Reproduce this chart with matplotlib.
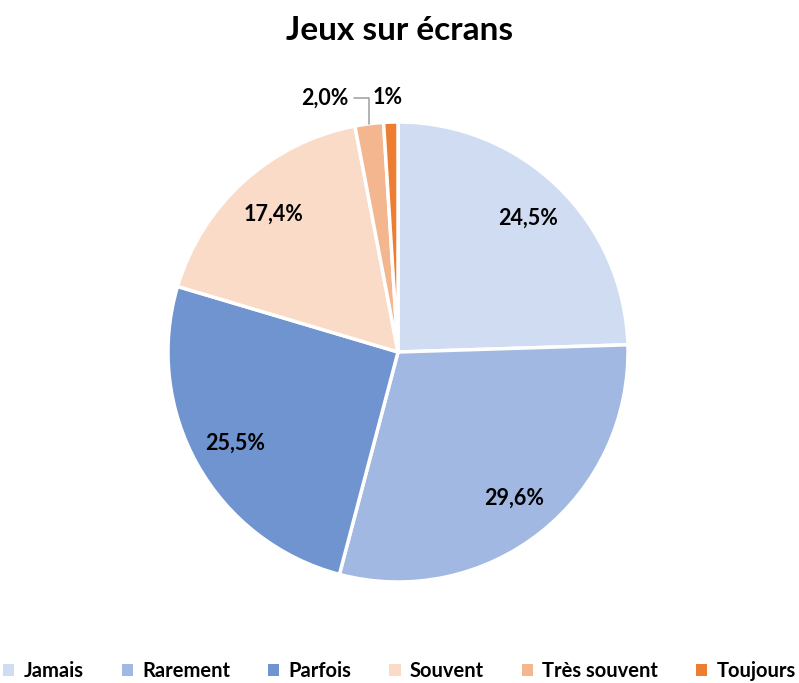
import numpy as np
import matplotlib
matplotlib.use("Agg")
import matplotlib.pyplot as plt

plt.rcParams['font.family'] = ['Lato', 'DejaVu Sans']

categories = ["Jamais", "Rarement", "Parfois", "Souvent", "Très souvent", "Toujours"]
values = [24.5, 29.6, 25.5, 17.4, 2.0, 1.0]
labels = ["24,5%", "29,6%", "25,5%", "17,4%", "2,0%", "1%"]
colors = ["#CFDCF1", "#A1B9E2", "#6F94D0", "#F9DBC8", "#F4B68F", "#ED7D31"]

W, H = 799, 683
fig = plt.figure(figsize=(W / 100, H / 100), dpi=100)
cx, cy, r = 398, 352, 230
ax = fig.add_axes([(cx - r) / W, (H - cy - r) / H, 2 * r / W, 2 * r / H])

wedges, _ = ax.pie(values, colors=colors, startangle=90, counterclock=False,
                   radius=1.0, wedgeprops=dict(edgecolor="white", linewidth=2.5))
ax.set_xlim(-1, 1)
ax.set_ylim(-1, 1)
ax.set_aspect("equal")
ax.axis("off")

fs = 15.5
for i, (w, lab) in enumerate(zip(wedges, labels)):
    mid = np.deg2rad((w.theta1 + w.theta2) / 2)
    if i < 4:
        d = 0.81
        ax.text(d * np.cos(mid), d * np.sin(mid), lab, ha="center", va="center",
                fontsize=fs, fontweight="bold", color="#000000")

# small slices
w4 = wedges[4]
mid4 = np.deg2rad((w4.theta1 + w4.theta2) / 2)
ex, ey = np.cos(mid4), np.sin(mid4)
ax.annotate(labels[4], xy=(ex * 1.0, ey * 1.0), xytext=(-0.32, 1.105),
            ha="center", va="center", fontsize=fs, fontweight="bold",
            arrowprops=dict(arrowstyle="-", color="#A6A6A6", lw=1.2,
                            connectionstyle="angle,angleA=0,angleB=90,rad=0",
                            shrinkA=2, shrinkB=0, relpos=(1.0, 0.5)),
            annotation_clip=False)
w5 = wedges[5]
mid5 = np.deg2rad((w5.theta1 + w5.theta2) / 2)
ax.text(1.1 * np.cos(mid5) - 0.01, 1.105, labels[5], ha="center", va="center",
        fontsize=fs, fontweight="bold")

fig.text(0.5, 1 - 31 / H, "Jeux sur écrans", ha="center", va="center",
         fontsize=24, fontweight="bold")

leg = fig.legend(wedges, categories, loc="center", bbox_to_anchor=(0.5, 1 - 671 / H),
                 ncol=6, frameon=False, handlelength=0.55, handleheight=0.55,
                 handletextpad=0.45, columnspacing=1.9,
                 prop=dict(size=14.5, weight="bold"))
for h in leg.legend_handles:
    h.set_edgecolor("none")

fig.savefig("out.png", dpi=100, facecolor="white")
